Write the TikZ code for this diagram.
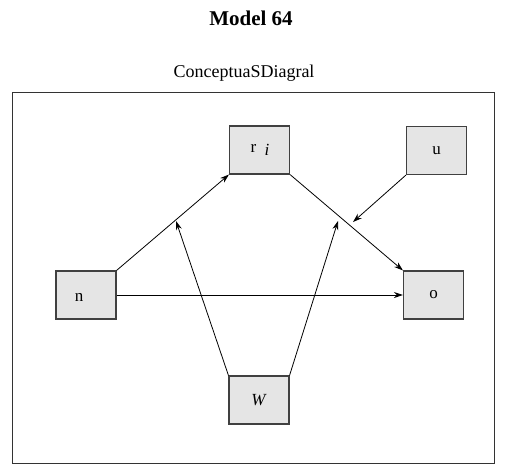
\documentclass[tikz,border=0pt]{standalone}
\usepackage{fontspec}
\setmainfont{Liberation Serif}
\usetikzlibrary{arrows.meta,calc}
\begin{document}
\begin{tikzpicture}[x=1pt,y=-1pt,
  box/.style={draw=black!75,line width=1.1pt,fill=black!10,minimum width=60pt,minimum height=48pt,inner sep=0pt,font=\fontsize{17}{19}\selectfont},
  lab/.style={inner sep=0pt,font=\fontsize{17}{19}\selectfont},
  arr/.style={line width=0.8pt,-{Stealth[length=9pt,width=6pt]}}]
\useasboundingbox (0,0) rectangle (506,475);
\node[font=\bfseries\fontsize{21}{23}\selectfont] (title) at (251,18) {Model 64};
\node[font=\fontsize{18}{20}\selectfont] (sub) at (244,73) {ConceptuaSDiagral};
\draw[line width=0.7pt,draw=black!80] (12,92) rectangle (494,463);
\node[box] (ri) at (259.5,150) {};
\node[lab] (rilab) at (260,150) {r\,\,\,\raisebox{-0.4ex}{\textit{i}}};
\node[box] (u) at (436.5,150.5) {u};
\node[box] (n) at (86,295) {};
\node[lab] (nlab) at (79,297) {n};
\node[box] (o) at (433.5,295) {o};
\node[box] (W) at (259,400) {\textit{W}};
\coordinate (e1) at (176,221);
\coordinate (e2) at (338,221);
\coordinate (e3) at (353,222);
\draw[arr] (n.north east) -- (ri.south west);
\draw[arr] (n.east) -- (o.west);
\draw[arr] (ri.south east) -- (o.north west);
\draw[arr] (u.south west) -- (e3);
\draw[arr] (W.north west) -- (e1);
\draw[arr] (W.north east) -- (e2);
\end{tikzpicture}
\end{document}
